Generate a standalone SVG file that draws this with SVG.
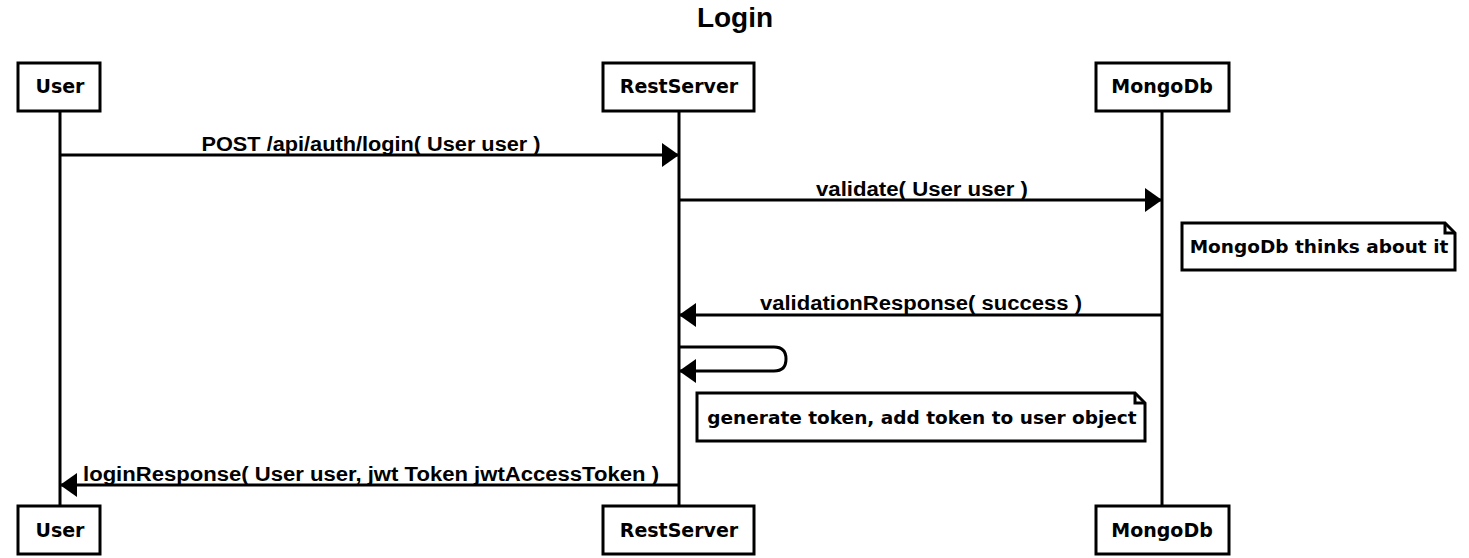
<svg xmlns="http://www.w3.org/2000/svg" width="1469" height="558" viewBox="0 0 1469 558">
<style>
.box{fill:#fff;stroke:#000;stroke-width:3}
.life{stroke:#000;stroke-width:3}
.msg{stroke:#000;stroke-width:3;fill:none}
.nt{font-family:"DejaVu Sans",sans-serif;font-weight:bold;font-size:19px;fill:#000;text-anchor:middle}
.ml{font-family:"Liberation Sans",Arial,sans-serif;font-weight:bold;font-size:20px;fill:#000;text-anchor:middle}
.note{font-family:"DejaVu Sans",sans-serif;font-weight:bold;font-size:18.5px;fill:#000;text-anchor:middle}
</style>
<defs>
<marker id="ah" markerWidth="18" markerHeight="24" refX="17" refY="12" orient="auto" markerUnits="userSpaceOnUse">
<path d="M0,0 L17,12 L0,24 Z" fill="#000"/>
</marker>
</defs>
<rect width="1469" height="558" fill="#fff"/>
<text x="735" y="27" style="font-family:'Liberation Sans',Arial,sans-serif;font-weight:bold;font-size:28px;text-anchor:middle">Login</text>
<g id="lifelines">
<line class="life" x1="60" y1="111" x2="60" y2="505"/>
<line class="life" x1="679" y1="111" x2="679" y2="505"/>
<line class="life" x1="1162" y1="111" x2="1162" y2="505"/>
</g>
<g id="node-user">
<rect class="box" x="18" y="63" width="82" height="48"/>
<text class="nt" x="60" y="93">User</text>
</g>
<g id="node-restserver">
<rect class="box" x="603" y="63" width="151" height="48"/>
<text class="nt" x="679" y="93">RestServer</text>
</g>
<g id="node-mongodb">
<rect class="box" x="1096" y="63" width="133" height="48"/>
<text class="nt" x="1162" y="93">MongoDb</text>
</g>
<g id="node-user-bottom">
<rect class="box" x="18" y="506" width="82" height="48"/>
<text class="nt" x="60" y="537">User</text>
</g>
<g id="node-restserver-bottom">
<rect class="box" x="603" y="506" width="151" height="48"/>
<text class="nt" x="679" y="537">RestServer</text>
</g>
<g id="node-mongodb-bottom">
<rect class="box" x="1096" y="506" width="133" height="48"/>
<text class="nt" x="1162" y="537">MongoDb</text>
</g>
<g id="note-mongo">
<path class="box" d="M1182,223 L1445,223 L1455,233 L1455,270 L1182,270 Z"/>
<path class="msg" d="M1445,223 L1445,233 L1455,233"/>
<text class="note" x="1319" y="253">MongoDb thinks about it</text>
</g>
<g id="note-token">
<path class="box" d="M697,393 L1135,393 L1145,403 L1145,441 L697,441 Z"/>
<path class="msg" d="M1135,393 L1135,403 L1145,403"/>
<text class="note" x="922" y="424">generate token, add token to user object</text>
</g>
<g id="connectors">
<line class="msg" x1="60" y1="155" x2="679" y2="155" marker-end="url(#ah)"/>
<text class="ml" x="371" y="151" textLength="339" lengthAdjust="spacingAndGlyphs">POST /api/auth/login( User user )</text>
<line class="msg" x1="679" y1="200" x2="1162" y2="200" marker-end="url(#ah)"/>
<text class="ml" x="922" y="196" textLength="212" lengthAdjust="spacingAndGlyphs">validate( User user )</text>
<line class="msg" x1="1162" y1="315" x2="679" y2="315" marker-end="url(#ah)"/>
<text class="ml" x="921" y="310" textLength="322" lengthAdjust="spacingAndGlyphs">validationResponse( success )</text>
<path class="msg" d="M679,347 L774,347 Q786,347 786,359 Q786,371 774,371 L679,371" marker-end="url(#ah)"/>
<line class="msg" x1="679" y1="485" x2="60" y2="485" marker-end="url(#ah)"/>
<text class="ml" x="371" y="481" textLength="576" lengthAdjust="spacingAndGlyphs">loginResponse( User user, jwt Token jwtAccessToken )</text>
</g>
</svg>
